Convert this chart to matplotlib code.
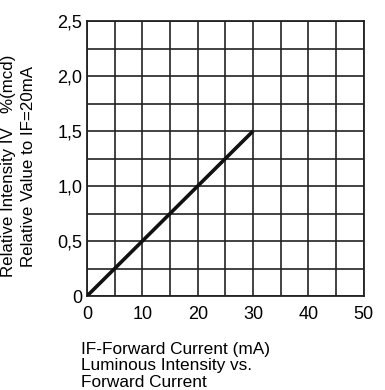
import matplotlib
matplotlib.use("Agg")
import matplotlib.pyplot as plt
import numpy as np

# forward current (mA) vs relative luminous intensity
current = [0, 30]
intensity = [0, 1.5]

x_ticks = [0, 10, 20, 30, 40, 50]
y_ticks = [0, 0.5, 1.0, 1.5, 2.0, 2.5]
y_labels = ["0", "0,5", "1,0", "1,5", "2,0", "2,5"]

plt.rcParams['font.family'] = ['Liberation Sans', 'DejaVu Sans']

fig = plt.figure(figsize=(3.85, 3.9), dpi=100)
ax = fig.add_axes([0.226, 0.241, 0.719, 0.705])

ax.plot(current, intensity, color='#111111', lw=2.6, solid_capstyle='butt', zorder=3)

ax.set_xlim(0, 50)
ax.set_ylim(0, 2.5)
ax.set_xticks(x_ticks)
ax.set_xticks(np.arange(0, 51, 5), minor=True)
ax.set_yticks(y_ticks)
ax.set_yticklabels(y_labels)
ax.set_yticks(np.arange(0, 2.51, 0.25), minor=True)
ax.grid(True, which='both', color='#222222', lw=1.2)
ax.tick_params(which='both', length=0, labelsize=13)
ax.tick_params(axis='x', pad=7)
ax.tick_params(axis='y', pad=3.5)
for s in ax.spines.values():
    s.set_color('#222222')
    s.set_linewidth(1.3)

fig.text(0.023, 0.574, "Relative Intensity IV   %(mcd)", rotation=90,
         ha='center', va='center', fontsize=12.2)
fig.text(0.073, 0.574, "Relative Value to IF=20mA", rotation=90,
         ha='center', va='center', fontsize=12.2)

fig.text(0.21, 0.062, "IF-Forward Current (mA)\nLuminous Intensity vs.\nForward Current",
         ha='left', va='center', fontsize=12.4, linespacing=1.12)

fig.savefig("out.png", dpi=100)
